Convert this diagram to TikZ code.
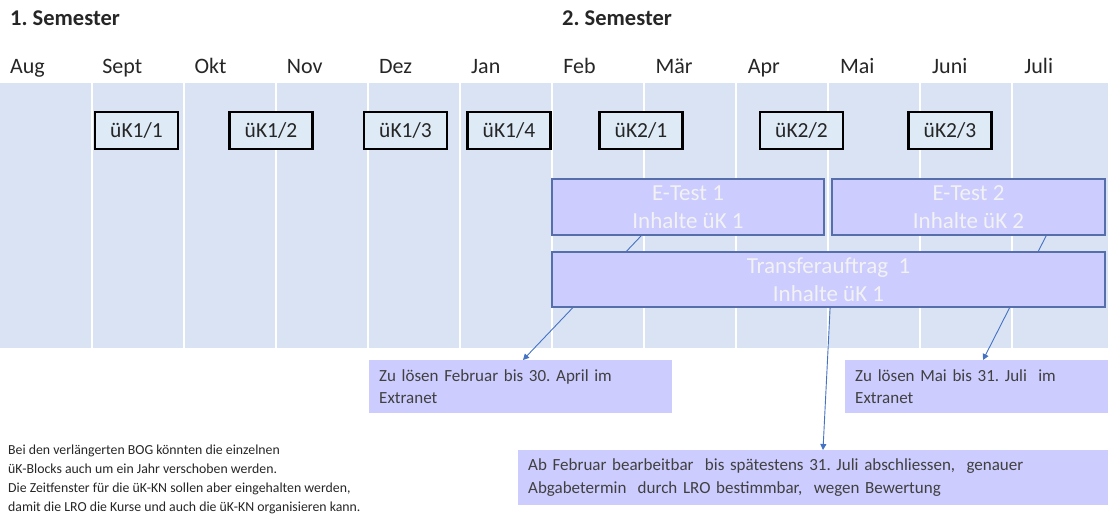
\documentclass[tikz,border=0pt]{standalone}
\usepackage{fontspec}
\setmainfont{Carlito}
\usetikzlibrary{arrows.meta,calc}
\frenchspacing
\definecolor{band}{RGB}{218,227,243}
\definecolor{ukfill}{RGB}{222,235,247}
\definecolor{lav}{RGB}{204,204,255}
\definecolor{lavedge}{RGB}{86,110,170}
\definecolor{arrowblue}{RGB}{68,114,196}
\definecolor{darktext}{RGB}{64,64,64}
\definecolor{hdr}{RGB}{38,38,38}
\tikzset{
  month/.style={anchor=base west, inner sep=0pt, text=hdr, font=\fontsize{22}{26}\selectfont},
  semhdr/.style={anchor=base west, inner sep=0pt, text=hdr, font=\bfseries\fontsize{22.5}{26}\selectfont},
  ukbox/.style={draw=black, line width=2.6pt, fill=ukfill, minimum width=83pt, minimum height=37pt, inner sep=0pt, text=hdr, font=\fontsize{21.5}{25}\selectfont},
  testbox/.style={draw=lavedge, line width=1.8pt, fill=lav, inner sep=0pt, align=center, text=white!95!black, font=\fontsize{23}{28}\selectfont},
  callout/.style={fill=lav, anchor=north west, inner sep=0pt, align=left, text=darktext, font=\fontsize{17}{22.5}\selectfont},
  conn/.style={draw=arrowblue, line width=0.9pt, -{Triangle[length=6pt,width=6pt]}},
  sep/.style={draw=white, line width=2pt}
}
\begin{document}
\begin{tikzpicture}[x=1pt,y=-1pt]
\useasboundingbox (0,0) rectangle (1108,520);
% band
\fill[band] (0,83) rectangle (1108,348);
\foreach \k in {1,...,11} {\draw[sep] (92*\k,83) -- (92*\k,348);}
% headers
\node[semhdr] (s1) at (10,25) {1. Semester};
\node[semhdr] (s2) at (562,25) {2. Semester};
% months
\foreach \m [count=\i from 0] in {Aug,Sept,Okt,Nov,Dez,Jan,Feb,M\"ar,Apr,Mai,Juni,Juli} {
  \node[month] (m\i) at (10+92.2*\i,73) {\m};
}
% uK boxes
\node[ukbox] (u11) at (136.5,130.5) {üK1/1};
\node[ukbox] (u12) at (271,130.5) {üK1/2};
\node[ukbox] (u13) at (405.5,130.5) {üK1/3};
\node[ukbox] (u14) at (509,130.5) {üK1/4};
\node[ukbox] (u21) at (641,130.5) {üK2/1};
\node[ukbox] (u22) at (801.5,130.5) {üK2/2};
\node[ukbox] (u23) at (950,130.5) {üK2/3};
% E-Test boxes
\node[testbox, minimum width=272pt, minimum height=56pt] (et1) at (688,207) {E-Test 1\\Inhalte üK 1};
\node[testbox, minimum width=273pt, minimum height=56pt] (et2) at (968.5,207) {E-Test 2\\Inhalte üK 2};
% callouts
\node[callout, minimum width=303pt, minimum height=53pt, text width=283pt, inner xsep=10pt] (c1) at (369,360) {Zu lösen Februar bis 30. April im\\Extranet};
\node[callout, minimum width=263pt, minimum height=53pt, text width=243pt, inner xsep=10pt] (c2) at (845,360) {Zu lösen Mai bis 31. Juli\ \ im\\Extranet};
\node[callout, minimum width=590pt, minimum height=55pt, text width=570pt, inner xsep=10pt] (c3) at (518,450) {Ab Februar bearbeitbar\ \ bis spätestens 31. Juli abschliessen,\ \ genauer\\Abgabetermin\ \ durch LRO bestimmbar,\ \ wegen Bewertung};
% connectors behind transfer box
\draw[conn] ($(et1.south west)+(90,0)$) -- ($(c1.north west)+(154,0)$);
\draw[conn] ($(et2.south west)+(215,0)$) -- ($(c2.north west)+(138,0)$);
% transfer box
\node[testbox, minimum width=553pt, minimum height=55pt] (tr) at (828.5,279.5) {Transferauftrag\ \ 1\\Inhalte üK 1};
\draw[conn] ($(tr.south west)+(279,0)$) -- ($(c3.north west)+(305,0)$);
% note
\node[anchor=north west, inner sep=0pt, align=left, text=hdr, font=\fontsize{13.8}{18.8}\selectfont] (note) at (8,445) {Bei den verlängerten BOG könnten die einzelnen\\üK-Blocks auch um ein Jahr verschoben werden.\\Die Zeitfenster für die üK-KN sollen aber eingehalten werden,\\damit die LRO die Kurse und auch die üK-KN organisieren kann.};
\end{tikzpicture}
\end{document}
